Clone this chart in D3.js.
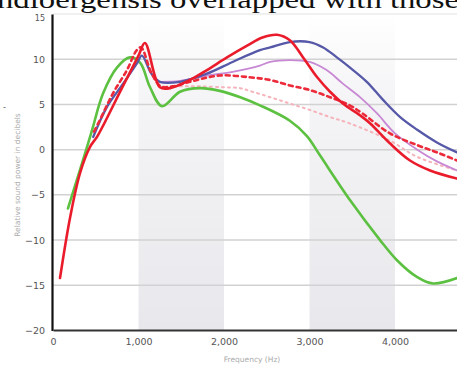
<!DOCTYPE html>
<html><head><meta charset="utf-8">
<script src="https://cdn.jsdelivr.net/npm/d3@7"></script>
<style>body{margin:0;background:#fff;overflow:hidden}svg{display:block}</style>
</head><body>
<script>
const xTicks = [0, 1000, 2000, 3000, 4000];
const yTicks = [-20, -15, -10, -5, 0, 5, 10, 15];
const bands = [[1000, 2000], [3000, 4000]];

const green = [[175,-6.5],[350,-1.2],[455,2.1],[585,6.2],[750,9.1],[900,10.2],[1020,9.6],[1135,6.9],[1275,4.8],[1485,6.4],[1720,6.8],[1950,6.5],[2190,5.8],[2420,4.9],[2770,3.2],[2970,1.5],[3120,-0.6],[3475,-5.6],[3825,-10],[4020,-12.2],[4260,-14.1],[4445,-14.8],[4725,-14.2]];
const redSolid = [[82,-14.2],[200,-7.5],[316,-2.6],[433,0.3],[520,1.5],[800,6.7],[1000,10.4],[1075,11.8],[1250,6.9],[1370,6.8],[1600,7.7],[1800,8.8],[2035,10.2],[2270,11.5],[2450,12.4],[2620,12.7],[2770,12.1],[2925,10.2],[3090,8.0],[3240,6.4],[3390,5.1],[3590,3.8],[3710,2.9],[3940,0.7],[4175,-1.2],[4410,-2.3],[4725,-3.2]];
const blue = [[470,1.4],[630,4.7],[820,7.3],[980,9.5],[1040,10.4],[1150,8.4],[1250,7.5],[1485,7.5],[1800,8.4],[2100,9.7],[2420,11.0],[2540,11.3],[2770,11.9],[3000,11.9],[3160,11.3],[3320,10.2],[3470,9.1],[3670,7.5],[3860,5.5],[4060,3.6],[4260,2.2],[4490,0.8],[4725,-0.3]];
const purple = [[1250,7.5],[1485,7.6],[1800,8.2],[2100,8.6],[2420,9.3],[2540,9.7],[2770,9.9],[3000,9.7],[3200,8.8],[3390,7.3],[3590,5.8],[3790,4.0],[4000,1.8],[4260,0.0],[4490,-1.3],[4725,-2.3]];
const redDashed = [[480,2.0],[550,3.3],[700,6.2],[865,8.8],[980,11.0],[1030,11.3],[1150,8.5],[1260,7.0],[1400,7.0],[1600,7.5],[1950,8.2],[2300,8.0],[2540,7.7],[2770,7.1],[3000,6.6],[3240,5.8],[3470,4.9],[3620,4.0],[3940,1.8],[4260,0.5],[4490,-0.3],[4725,-1.2]];
const pinkDotted = [[1150,8.5],[1260,7.0],[1500,7.0],[1720,7.0],[2000,6.9],[2190,6.8],[2300,6.5],[2540,5.8],[2770,5.1],[3000,4.4],[3240,3.6],[3470,2.9],[3940,1.0],[4260,-0.8],[4725,-2.3]];

const W = 457, H = 365;
const svg = d3.select("body").append("svg").attr("width", W).attr("height", H);
const x = d3.scaleLinear().domain([0, 4725]).range([53, 457]);
const y = d3.scaleLinear().domain([-20, 15]).range([330.5, 14]);

// heading text cut at top
svg.append("text").attr("x", -3).attr("y", 8)
  .attr("font-family", "Liberation Serif").attr("font-size", 26).attr("fill", "#111")
  .attr("textLength", 462).attr("lengthAdjust", "spacingAndGlyphs")
  .text("ndioergensis overlapped with those");

const defs = svg.append("defs");
const g = defs.append("linearGradient").attr("id", "bandg").attr("x1", 0).attr("y1", 0).attr("x2", 0).attr("y2", 1);
g.append("stop").attr("offset", "0").attr("stop-color", "#ffffff");
g.append("stop").attr("offset", "0.25").attr("stop-color", "#f5f5f7");
g.append("stop").attr("offset", "1").attr("stop-color", "#e8e8ec");

svg.selectAll("rect.band").data(bands).enter().append("rect")
  .attr("x", d => x(d[0])).attr("width", d => x(d[1]) - x(d[0]))
  .attr("y", y(15)).attr("height", y(-20) - y(15)).attr("fill", "url(#bandg)");

// grid
svg.selectAll("line.grid").data(yTicks.filter(v => v > -20)).enter().append("line")
  .attr("x1", 53).attr("x2", W).attr("y1", d => y(d)).attr("y2", d => y(d))
  .attr("stroke", d => d === 15 ? "#ebebeb" : "#d2d2d2").attr("stroke-width", 1.5);

// axes
const yAxis = d3.axisLeft(y).tickValues(yTicks).tickSize(0).tickPadding(7);
const ya = svg.append("g").attr("transform", "translate(52,0)").call(yAxis);
ya.select(".domain").attr("stroke", "#111").attr("stroke-width", 2.2);
ya.selectAll("text").attr("font-family", "DejaVu Sans").attr("font-size", 9.5).attr("fill", "#555");
ya.selectAll(".tick").filter(d => d === 15).select("text").attr("dy", "0.75em").attr("font-size", 8);

const xAxis = d3.axisBottom(x).tickValues(xTicks).tickSize(0).tickPadding(8).tickFormat(d3.format(","));
const xa = svg.append("g").attr("transform", "translate(0,330)").call(xAxis);
xa.select(".domain").attr("stroke", "#333").attr("stroke-width", 2);
xa.selectAll("text").attr("font-family", "DejaVu Sans").attr("font-size", 9.5).attr("fill", "#555");

svg.append("text").attr("x", 252).attr("y", 362).attr("text-anchor", "middle")
  .attr("font-family", "DejaVu Sans").attr("font-size", 7.5).attr("fill", "#aaa").text("Frequency (Hz)");
svg.append("text").attr("transform", "translate(20,175) rotate(-90)").attr("text-anchor", "middle")
  .attr("font-family", "DejaVu Sans").attr("font-size", 7.5).attr("fill", "#aaa").text("Relative sound power in decibels");
svg.append("text").attr("x", 3).attr("y", 110).attr("font-family", "DejaVu Sans").attr("font-size", 8).attr("fill", "#555").text("-");

const line = d3.line().x(d => x(d[0])).y(d => y(d[1])).curve(d3.curveCatmullRom.alpha(0.5));
const series = [
  {data: pinkDotted, color: "#f5b3bb", w: 2, dash: "2,4"},
  {data: purple, color: "#c888d4", w: 1.8, dash: null},
  {data: green, color: "#5cc040", w: 2.6, dash: null},
  {data: blue, color: "#5658a8", w: 2.3, dash: null},
  {data: redDashed, color: "#ec2a3a", w: 2.6, dash: "4,4"},
  {data: redSolid, color: "#ea1c2c", w: 2.6, dash: null}
];
svg.selectAll("path.s").data(series).enter().append("path")
  .attr("d", d => line(d.data)).attr("fill", "none")
  .attr("stroke", d => d.color).attr("stroke-width", d => d.w)
  .attr("stroke-dasharray", d => d.dash).attr("stroke-linecap", "round").attr("stroke-linejoin", "round");
</script>
</body></html>
